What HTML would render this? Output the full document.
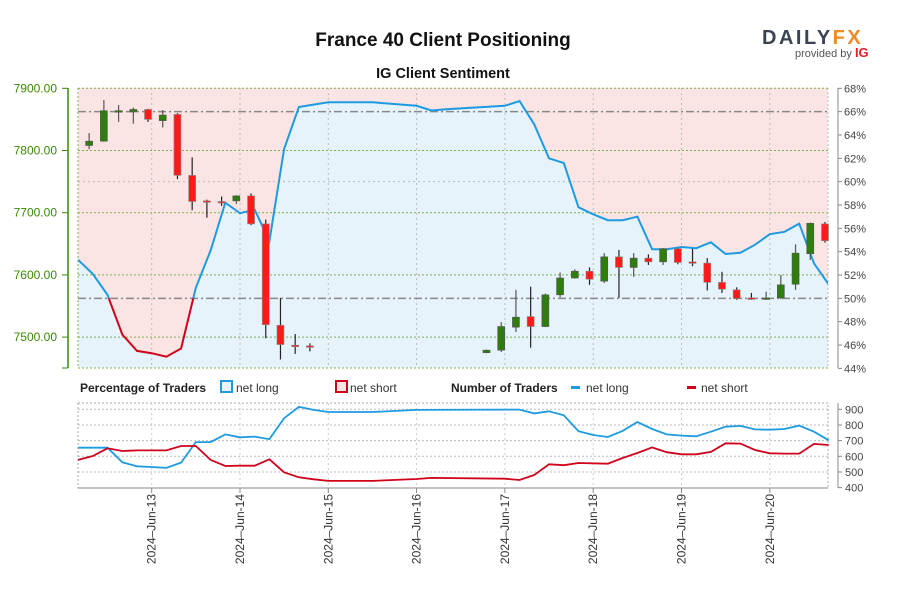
<!DOCTYPE html>
<html><head><meta charset="utf-8"><style>
body{margin:0;background:#fff;}
svg{display:block;font-family:"Liberation Sans",sans-serif;}
</style></head><body>
<svg id="chart" width="900" height="600" viewBox="0 0 900 600">
<text x="443" y="46" text-anchor="middle" font-size="19" font-weight="bold" fill="#111">France 40 Client Positioning</text>
<text x="443" y="78" text-anchor="middle" font-size="14.5" font-weight="bold" fill="#111">IG Client Sentiment</text>
<g>
<text x="762" y="44" font-size="20" font-weight="bold" letter-spacing="2.5" fill="#3b4552">DAILY<tspan fill="#f08a24">FX</tspan></text>
<text x="795" y="57" font-size="11" fill="#555">provided by <tspan fill="#e8202a" font-weight="bold" font-size="13">IG</tspan></text>
</g>
<g id="main"></g>
<g id="lower"></g>
<g font-size="12">
<text x="80" y="392" font-weight="bold" fill="#222">Percentage of Traders</text>
<rect x="221" y="381" width="11" height="11" fill="#e6f3fb" stroke="#1e9be0" stroke-width="2"/>
<text x="236" y="392" fill="#333">net long</text>
<rect x="336" y="381" width="11" height="11" fill="#fbe4e4" stroke="#d0021b" stroke-width="2"/>
<text x="350" y="392" fill="#333">net short</text>
<text x="451" y="392" font-weight="bold" fill="#222">Number of Traders</text>
<rect x="571" y="386" width="9" height="3" fill="#1e9be0"/>
<text x="586" y="392" fill="#333">net long</text>
<rect x="687" y="386" width="9" height="3" fill="#d0021b"/>
<text x="701" y="392" fill="#333">net short</text>
</g>
</svg>
<script>
// ---- data ----
const candleHours = [-17,-13,-9,-5,-1,3,7,11,15,19,23,27,31,35,39,43,
 91,95,99,103,107,111,115,119,123,127,131,135,139,143,147,151,155,159,163,167,171,175,179,183];
const opens  = [7808,7815,7863,7862,7866,7848,7858,7760,7719,7718,7719,7727,7682,7519,7487,7486,
 7475,7479,7516,7533,7517,7568,7595,7606,7590,7629,7612,7627,7621,7642,7621,7619,7588,7576,7563,7561,7563,7585,7634,7682];
const closes = [7815,7864,7864,7866,7850,7857,7760,7718,7718,7716,7727,7682,7520,7488,7486,7485,
 7479,7517,7532,7517,7568,7595,7606,7593,7629,7612,7627,7621,7642,7620,7619,7588,7577,7562,7561,7563,7584,7635,7683,7655];
const highs  = [7828,7881,7873,7869,7867,7865,7860,7789,7721,7726,7728,7731,7689,7563,7505,7490,
 7480,7524,7576,7581,7570,7604,7609,7612,7635,7640,7635,7633,7643,7643,7642,7627,7605,7580,7571,7573,7600,7649,7684,7685];
const lows   = [7802,7814,7846,7843,7846,7837,7754,7704,7692,7711,7714,7680,7498,7464,7473,7477,
 7474,7476,7508,7483,7516,7564,7594,7584,7587,7563,7597,7616,7616,7617,7614,7575,7571,7560,7560,7560,7561,7576,7624,7652];
const sentHours = [-20,-16,-12,-8,-4,0,4,8,12,16,20,24,28,32,36,40,44,48,60,72,76,80,96,100,104,108,112,116,120,124,128,132,136,140,144,148,152,156,160,164,168,172,176,180,184];
const pctLong = [53.3,52.1,50.3,46.9,45.5,45.3,45.0,45.7,50.9,54.1,58.2,57.3,57.6,54.9,62.8,66.4,66.6,66.8,66.8,66.5,66.1,66.2,66.5,66.9,64.9,62.0,61.6,57.8,57.2,56.7,56.7,57.0,54.2,54.2,54.4,54.3,54.8,53.8,53.9,54.6,55.5,55.7,56.4,53.0,51.2];
const longHours = [-20,-12,-8,-4,0,4,8,12,16,20,24,28,32,36,40,44,48,60,72,100,104,108,112,116,120,124,128,132,136,140,144,148,152,156,160,164,168,172,176,180,184];
const numLong = [655,655,562,536,532,526,560,691,691,740,721,726,709,843,915,896,883,883,896,898,874,887,862,760,736,723,762,819,774,740,732,728,757,789,794,772,770,774,796,757,702];
const shortHours = [-20,-16,-12,-8,-4,0,4,8,12,16,20,24,28,32,36,40,44,48,60,72,76,96,100,104,108,112,116,124,128,132,136,140,144,148,152,156,160,164,168,172,176,180,184];
const numShort = [577,602,651,634,638,638,638,666,666,577,538,540,540,581,498,466,453,443,443,455,462,457,449,481,549,543,557,553,589,621,657,626,613,613,628,683,681,640,619,617,617,679,672];
const priceTicks = [7900,7800,7700,7600,7500];
const pctTicks = [68,66,64,62,60,58,56,54,52,50,48,46,44];
const countTicks = [900,800,700,600,500,400];
const dayLabels = ["2024\u2013Jun-13","2024\u2013Jun-14","2024\u2013Jun-15","2024\u2013Jun-16","2024\u2013Jun-17","2024\u2013Jun-18","2024\u2013Jun-19","2024\u2013Jun-20"];

// ---- scales ----
const L=78,R=828,T=88,B=368, LT=403,LB=488;
const xS = h => 151.7 + h*88.3/24;
const yP = p => 88.3 + (7900-p)*0.622;
const yPct = v => 88.3 + (68-v)*11.67;
const yN = v => 409.3 + (900-v)*0.1567;
const NS="http://www.w3.org/2000/svg";
function mk(tag,attrs,parent){const e=document.createElementNS(NS,tag);for(const k in attrs)e.setAttribute(k,attrs[k]);parent.appendChild(e);return e;}
const main=document.getElementById('main'), lower=document.getElementById('lower');

// clips
const defs=mk('defs',{},main);
const c1=mk('clipPath',{id:'plotclip'},defs); mk('rect',{x:L,y:T,width:R-L,height:B-T},c1);
const c2=mk('clipPath',{id:'above50'},defs); mk('rect',{x:L,y:T-5,width:R-L,height:yPct(50)-T+5},c2);
const c3=mk('clipPath',{id:'below50'},defs); mk('rect',{x:L,y:yPct(50),width:R-L,height:B-yPct(50)+5},c3);

// backgrounds
let bgPink=mk('rect',{x:L,y:T,width:R-L,height:B-T,fill:'#fbe4e4'},main);


let pts=sentHours.map((h,i)=>xS(h).toFixed(1)+','+yPct(pctLong[i]).toFixed(1));
let area=mk('polygon',{points:L+','+B+' '+pts.join(' ')+' '+R+','+B,fill:'#e6f3fb','clip-path':'url(#plotclip)'},main);



// grids
priceTicks.forEach(p=>{mk('line',{x1:L,x2:R,y1:yP(p),y2:yP(p),stroke:'#7cb342','stroke-dasharray':'2,2','stroke-width':1},main);});
mk('line',{x1:L,x2:R,y1:B,y2:B,stroke:'#7cb342','stroke-dasharray':'2,2'},main);
mk('line',{x1:L,x2:R,y1:yPct(60),y2:yPct(60),stroke:'#bbb','stroke-dasharray':'2,3'},main);
mk('line',{x1:L,x2:L,y1:T,y2:B,stroke:'#7cb342','stroke-dasharray':'2,2'},main);
mk('line',{x1:R,x2:R,y1:T,y2:B,stroke:'#bbb','stroke-dasharray':'2,2'},main);
dayLabels.forEach((d,i)=>{const x=xS(24*i);mk('line',{x1:x,x2:x,y1:T,y2:B,stroke:'#bbb','stroke-dasharray':'2,3'},main);});
[66,50].forEach(v=>{let l=mk('line',{x1:L,x2:R,y1:yPct(v),y2:yPct(v),stroke:'#888','stroke-width':1.5,'stroke-dasharray':'8,3,2,3'},main);

});

// sentiment line
let sl1=mk('polyline',{points:pts.join(' '),fill:'none',stroke:'#1e9be0','stroke-width':2,'clip-path':'url(#above50)'},main);


let sl2=mk('polyline',{points:pts.join(' '),fill:'none',stroke:'#d0021b','stroke-width':2,'clip-path':'url(#below50)'},main);



// candles
candleHours.forEach((h,i)=>{const x=xS(h),o=opens[i],c=closes[i];
 const up=c>=o; const g=mk('g',{},main);
 
 
 mk('line',{x1:x,x2:x,y1:yP(highs[i]),y2:yP(lows[i]),stroke:up?'#555':'#222','stroke-width':1.2},g);
 const yt=yP(Math.max(o,c)),yb=yP(Math.min(o,c));
 mk('rect',{x:x-3.5,y:yt,width:7,height:Math.max(yb-yt,1.5),fill:up?'#2f7d0c':'#ff1a1a',stroke:up?'#555':'#888','stroke-width':0.6},g);
});

// axes
mk('line',{x1:68,x2:68,y1:T,y2:B,stroke:'#3a8a00','stroke-width':1.5},main);
priceTicks.forEach(p=>{mk('line',{x1:62,x2:68,y1:yP(p),y2:yP(p),stroke:'#3a8a00'},main);
 let t=mk('text',{x:57,y:yP(p)+4,'text-anchor':'end','font-size':12,fill:'#3a8a00'},main);t.textContent=p.toFixed(2);
 
 });
mk('line',{x1:62,x2:68,y1:B,y2:B,stroke:'#3a8a00'},main);
mk('line',{x1:838,x2:838,y1:T,y2:B,stroke:'#888'},main);
pctTicks.forEach(v=>{mk('line',{x1:838,x2:842,y1:yPct(v),y2:yPct(v),stroke:'#888'},main);
 let t=mk('text',{x:844,y:yPct(v)+4,'font-size':11,fill:'#444'},main);t.textContent=v+'%';
 
 });

// lower panel
mk('rect',{x:L,y:LT,width:R-L,height:LB-LT,fill:'#fff',stroke:'#aaa','stroke-dasharray':'2,2'},lower);
countTicks.forEach(v=>{if(v>400)mk('line',{x1:L,x2:R,y1:yN(v),y2:yN(v),stroke:'#bbb','stroke-dasharray':'2,2'},lower);});
dayLabels.forEach((d,i)=>{const x=xS(24*i);mk('line',{x1:x,x2:x,y1:LT,y2:LB,stroke:'#ccc','stroke-dasharray':'2,3'},lower);
 mk('line',{x1:x,x2:x,y1:LB,y2:LB+5,stroke:'#888'},lower);
 let t=mk('text',{x:0,y:0,'text-anchor':'end','font-size':12,fill:'#333',transform:`translate(${x+4},494) rotate(-90)`},lower);t.textContent=d;
 
 });
mk('line',{x1:L,x2:R,y1:LB,y2:LB,stroke:'#888'},lower);
mk('line',{x1:838,x2:838,y1:LT,y2:LB,stroke:'#888'},lower);
countTicks.forEach(v=>{mk('line',{x1:838,x2:842,y1:yN(v),y2:yN(v),stroke:'#888'},lower);
 let t=mk('text',{x:845,y:yN(v)+4,'font-size':11,fill:'#444'},lower);t.textContent=v;
 
 });
let nl=mk('polyline',{points:longHours.map((h,i)=>xS(h).toFixed(1)+','+yN(numLong[i]).toFixed(1)).join(' '),fill:'none',stroke:'#1e9be0','stroke-width':1.8},lower);


let ns=mk('polyline',{points:shortHours.map((h,i)=>xS(h).toFixed(1)+','+yN(numShort[i]).toFixed(1)).join(' '),fill:'none',stroke:'#d0021b','stroke-width':1.8},lower);


</script>
</body></html>
